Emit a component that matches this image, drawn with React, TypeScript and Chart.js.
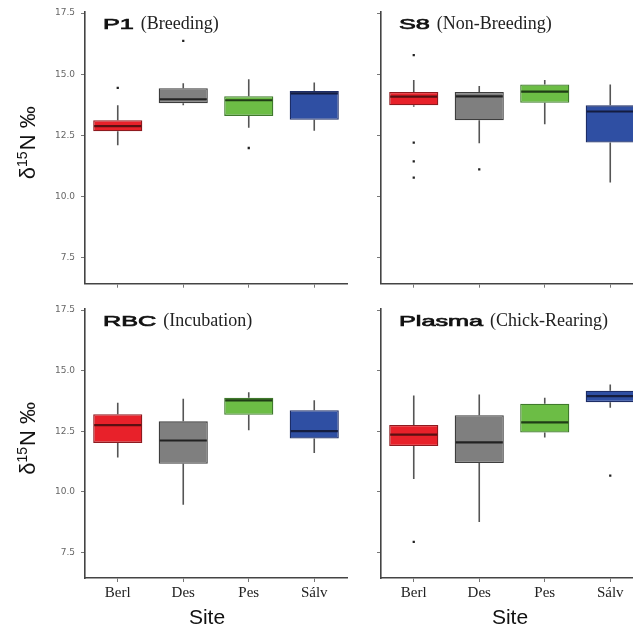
import React, { useEffect, useRef } from 'react';
import { Chart, registerables } from 'chart.js';

Chart.register(...registerables);

const sites = ['Berl', 'Des', 'Pes', 'Sálv'];
const yTickValues = [7.5, 10, 12.5, 15, 17.5];
const yMin = 6.45;
const yMax = 17.55;

// five-number summaries: [lower whisker, Q1, median, Q3, upper whisker]
const p1Stats = [
  [12.1, 12.67, 12.88, 13.12, 13.73],
  [13.73, 13.82, 13.98, 14.43, 14.63],
  [12.82, 13.3, 13.94, 14.1, 14.8],
  [12.69, 13.14, 14.22, 14.32, 14.66],
];
const p1Outliers = [[14.44], [16.36], [11.99], []];

const s8Stats = [
  [13.67, 13.73, 14.09, 14.28, 14.77],
  [12.18, 13.12, 14.1, 14.28, 14.52],
  [12.96, 13.84, 14.29, 14.58, 14.77],
  [10.58, 12.21, 13.48, 13.73, 14.58],
];
const s8Outliers = [[15.78, 12.21, 11.44, 10.78], [11.12], [], []];

const rbcStats = [
  [11.42, 12.02, 12.75, 13.2, 13.68],
  [9.47, 11.16, 12.12, 12.91, 13.84],
  [12.54, 13.18, 13.77, 13.88, 14.11],
  [11.6, 12.2, 12.51, 13.37, 13.78],
];
const rbcOutliers = [[], [], [], []];

const plasmaStats = [
  [10.53, 11.89, 12.36, 12.76, 13.98],
  [8.76, 11.19, 12.04, 13.16, 14.02],
  [12.24, 12.45, 12.87, 13.64, 13.88],
  [13.47, 13.7, 13.95, 14.17, 14.43],
];
const plasmaOutliers = [[7.94], [], [], [10.67]];

const fills = ['#e8212a', '#7f7f7f', '#6cbd45', '#2f4fa3'];
const borders = ['#8e1a1f', '#3d3d3d', '#3f7a2c', '#1d2d66'];
const medianColors = ['#5a1012', '#222222', '#1f3d16', '#141d40'];

type PanelProps = {
  stats: number[][];
  outliers: number[][];
  tag: string;
  phase: string;
  left: number;
  top: number;
  width: number;
  height: number;
  yAxisW: number;
  xAxisH: number;
  padTop: number;
  padRight: number;
  showYLabels: boolean;
  showXLabels: boolean;
  siteShift: number;
};

function Panel(p: PanelProps) {
  const ref = useRef<HTMLCanvasElement | null>(null);
  useEffect(() => {
    if (!ref.current) return;
    const stats = p.stats;
    const outlierData = p.outliers.flatMap((arr, i) => arr.map((v) => ({ x: sites[i], y: v })));

    const extras = {
      id: 'boxExtras',
      beforeDatasetsDraw(chart: any) {
        const { ctx, scales } = chart;
        const x = scales.x;
        const y = scales.y;
        ctx.save();
        ctx.strokeStyle = '#555555';
        ctx.lineWidth = 1.6;
        stats.forEach((s, i) => {
          const cx = x.getPixelForValue(i);
          ctx.beginPath();
          ctx.moveTo(cx, y.getPixelForValue(s[0]));
          ctx.lineTo(cx, y.getPixelForValue(s[1]));
          ctx.moveTo(cx, y.getPixelForValue(s[3]));
          ctx.lineTo(cx, y.getPixelForValue(s[4]));
          ctx.stroke();
        });
        ctx.restore();
      },
      afterDatasetsDraw(chart: any) {
        const { ctx, scales } = chart;
        const y = scales.y;
        const meta = chart.getDatasetMeta(0);
        ctx.save();
        ctx.lineWidth = 2.2;
        stats.forEach((s, i) => {
          const el = meta.data[i];
          const w = el.width;
          const py = y.getPixelForValue(s[2]);
          ctx.strokeStyle = medianColors[i];
          ctx.beginPath();
          ctx.moveTo(el.x - w / 2 + 1, py);
          ctx.lineTo(el.x + w / 2 - 1, py);
          ctx.stroke();
        });
        ctx.restore();
      },
      afterDraw(chart: any) {
        const { ctx, chartArea } = chart;
        ctx.save();
        // panel title
        const tx = chartArea.left + 18;
        const ty = chartArea.top + 17;
        ctx.fillStyle = '#111111';
        ctx.strokeStyle = '#111111';
        ctx.lineWidth = 0.7;
        ctx.textBaseline = 'alphabetic';
        ctx.textAlign = 'left';
        ctx.font = '15px "Liberation Sans", Arial, sans-serif';
        const tagW = ctx.measureText(p.tag).width * 1.68;
        ctx.save();
        ctx.translate(tx, ty);
        ctx.scale(1.68, 1);
        ctx.fillText(p.tag, 0, 0);
        ctx.strokeText(p.tag, 0, 0);
        ctx.restore();
        ctx.font = '18px "Liberation Serif", "Times New Roman", serif';
        ctx.fillStyle = '#222222';
        ctx.fillText(p.phase, tx + tagW + 7, ty);

        // y axis title
        if (p.showYLabels) {
          ctx.save();
          const cy = (chartArea.top + chartArea.bottom) / 2 - 5;
          ctx.translate(chartArea.left - 50, cy);
          ctx.rotate(-Math.PI / 2);
          ctx.fillStyle = '#111111';
          ctx.font = '22px "Liberation Sans", Arial, sans-serif';
          const a = 'δ';
          const b = '15';
          const c = 'N ‰';
          const wa = ctx.measureText(a).width;
          const wc = ctx.measureText(c).width;
          ctx.font = '14px "Liberation Sans", Arial, sans-serif';
          const wb = ctx.measureText(b).width;
          const total = wa + wb + wc + 1;
          let xx = -total / 2;
          ctx.font = '22px "Liberation Sans", Arial, sans-serif';
          ctx.fillText(a, xx, 0);
          xx += wa;
          ctx.font = '14px "Liberation Sans", Arial, sans-serif';
          ctx.fillText(b, xx, -8);
          xx += wb + 1;
          ctx.font = '22px "Liberation Sans", Arial, sans-serif';
          ctx.fillText(c, xx, 0);
          ctx.restore();
        }
        // x axis title
        if (p.showXLabels) {
          ctx.font = '21px "Liberation Sans", Arial, sans-serif';
          ctx.fillStyle = '#111111';
          ctx.textAlign = 'center';
          ctx.textBaseline = 'middle';
          ctx.fillText('Site', (chartArea.left + chartArea.right) / 2 + p.siteShift, chartArea.bottom + 40);
        }
        ctx.restore();
      },
    };

    const chart = new Chart(ref.current, {
      type: 'bar',
      data: {
        labels: sites,
        datasets: [
          {
            type: 'bar',
            data: stats.map((s) => [s[1], s[3]]) as any,
            backgroundColor: fills,
            borderColor: borders,
            borderWidth: 1.3,
            borderSkipped: false,
            categoryPercentage: 1,
            barPercentage: 0.75,
            order: 2,
          } as any,
          {
            type: 'scatter',
            data: outlierData as any,
            pointRadius: 1.6,
            pointStyle: 'rect',
            backgroundColor: '#222222',
            borderWidth: 0,
            order: 1,
          } as any,
        ],
      },
      options: {
        animation: false,
        responsive: false,
        maintainAspectRatio: false,
        layout: { padding: { left: 0, right: p.padRight, top: p.padTop, bottom: 0 } },
        plugins: { legend: { display: false }, tooltip: { enabled: false } },
        scales: {
          x: {
            type: 'category',
            offset: true,
            grid: {
              display: true,
              offset: false,
              drawOnChartArea: false,
              drawTicks: true,
              tickLength: 4,
              color: '#777777',
            },
            border: { display: true, color: '#444444', width: 1.6 },
            ticks: {
              display: p.showXLabels,
              padding: 2,
              color: '#222222',
              font: { family: '"Liberation Serif", "Times New Roman", serif', size: 15 },
            },
            afterFit: (s: any) => {
              s.height = p.xAxisH;
            },
          },
          y: {
            type: 'linear',
            min: yMin,
            max: yMax,
            afterBuildTicks: (s: any) => {
              s.ticks = yTickValues.map((v) => ({ value: v }));
            },
            grid: { display: true, drawOnChartArea: false, drawTicks: true, tickLength: 4, color: '#777777' },
            border: { display: true, color: '#444444', width: 1.6 },
            ticks: {
              display: p.showYLabels,
              padding: 6,
              color: '#666666',
              font: { family: '"DejaVu Sans", sans-serif', size: 9 },
              callback: (v: any) => Number(v).toFixed(1),
            },
            afterFit: (s: any) => {
              s.width = p.yAxisW;
            },
          },
        },
      } as any,
      plugins: [extras as any],
    });
    return () => chart.destroy();
  }, []);
  return (
    <canvas
      ref={ref}
      width={p.width}
      height={p.height}
      style={{ position: 'absolute', left: p.left, top: p.top, width: p.width, height: p.height }}
    />
  );
}

export default function App() {
  return (
    <div
      style={{
        position: 'fixed',
        left: 0,
        top: 0,
        width: 633,
        height: 628,
        overflow: 'hidden',
        background: '#ffffff',
      }}
    >
      <Panel
        stats={p1Stats}
        outliers={p1Outliers}
        tag="P1"
        phase="(Breeding)"
        left={0}
        top={0}
        width={360}
        height={300}
        yAxisW={85}
        xAxisH={16.3}
        padTop={11.8}
        padRight={13}
        showYLabels={true}
        showXLabels={false}
        siteShift={0}
      />
      <Panel
        stats={s8Stats}
        outliers={s8Outliers}
        tag="S8"
        phase="(Non-Breeding)"
        left={368}
        top={0}
        width={288}
        height={300}
        yAxisW={13}
        xAxisH={16.3}
        padTop={11.8}
        padRight={13}
        showYLabels={false}
        showXLabels={false}
        siteShift={0}
      />
      <Panel
        stats={rbcStats}
        outliers={rbcOutliers}
        tag="RBC"
        phase="(Incubation)"
        left={0}
        top={290}
        width={360}
        height={338}
        yAxisW={85}
        xAxisH={50}
        padTop={18.8}
        padRight={13}
        showYLabels={true}
        showXLabels={true}
        siteShift={-9}
      />
      <Panel
        stats={plasmaStats}
        outliers={plasmaOutliers}
        tag="Plasma"
        phase="(Chick-Rearing)"
        left={368}
        top={290}
        width={288}
        height={338}
        yAxisW={13}
        xAxisH={50}
        padTop={18.8}
        padRight={13}
        showYLabels={false}
        showXLabels={true}
        siteShift={-2}
      />
    </div>
  );
}
